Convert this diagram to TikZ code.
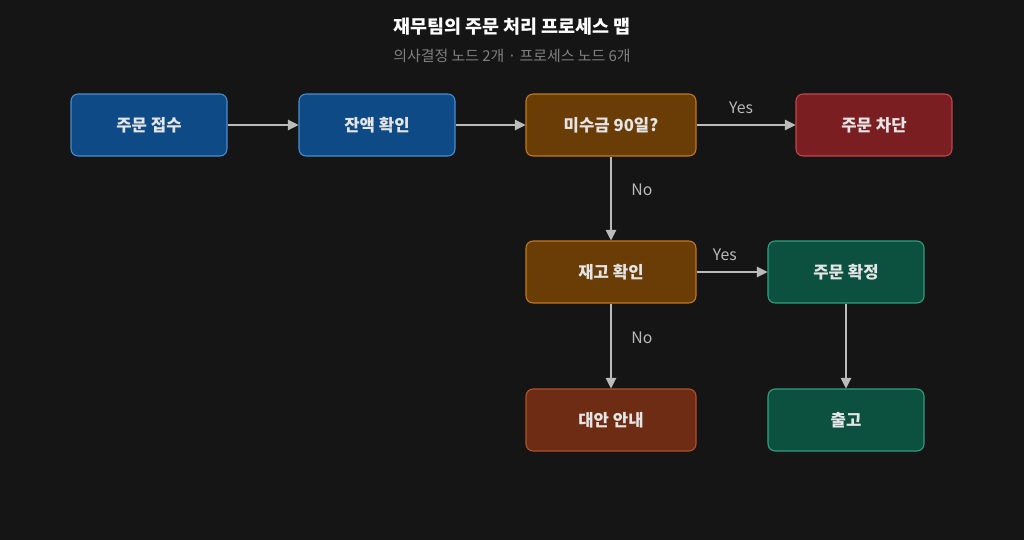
\documentclass[tikz,border=0pt]{standalone}
\usepackage{fontspec}
\setmainfont{Noto Sans CJK KR}
\usetikzlibrary{positioning}
\usetikzlibrary{arrows.meta}
\definecolor{bgc}{HTML}{151515}
\definecolor{linec}{HTML}{BBBBBB}
\definecolor{bluef}{HTML}{0E4A86}\definecolor{blued}{HTML}{4A8ED0}
\definecolor{orangef}{HTML}{6A3C06}\definecolor{oranged}{HTML}{C27A1C}
\definecolor{redf}{HTML}{7A1E22}\definecolor{redd}{HTML}{C4464E}
\definecolor{greenf}{HTML}{0C5040}\definecolor{greend}{HTML}{30A080}
\definecolor{brownf}{HTML}{6E2C14}\definecolor{brownd}{HTML}{B4522C}
\tikzset{
  box/.style={draw,rounded corners=4pt,line width=0.6pt,minimum width=3.12cm,minimum height=1.24cm,text=white!90!black,font=\fontsize{9.5}{11}\selectfont\bfseries},
  wide/.style={box,minimum width=3.4cm},
  arr/.style={-{Triangle[length=6pt,width=6pt]},draw=linec,line width=0.6pt},
  lbl/.style={text=linec,font=\fontsize{9}{11}\selectfont}
}
\begin{document}
\begin{tikzpicture}[x=0.02cm,y=-0.02cm]
  \fill[bgc] (0,0) rectangle (1024,540);
  \node[text=white,font=\fontsize{10.5}{12}\selectfont\bfseries] (title) at (512,27) {재무팀의 주문 처리 프로세스 맵};
  \node[text=gray,font=\fontsize{8.5}{10}\selectfont] (sub) at (512,56) {의사결정 노드 2개 · 프로세스 노드 6개};
  \node[box,fill=bluef,draw=blued] (recv) at (149,125) {주문 접수};
  \node[box,fill=bluef,draw=blued] (bal) at (377,125) {잔액 확인};
  \node[wide,fill=orangef,draw=oranged] (due) at (611,125) {미수금 90일?};
  \node[box,fill=redf,draw=redd] (block) at (874,125) {주문 차단};
  \node[wide,fill=orangef,draw=oranged] (stock) at (611,272) {재고 확인};
  \node[box,fill=greenf,draw=greend] (conf) at (846,272) {주문 확정};
  \node[wide,fill=brownf,draw=brownd] (alt) at (611,420) {대안 안내};
  \node[box,fill=greenf,draw=greend] (ship) at (846,420) {출고};
  \draw[arr] (recv) -- (bal);
  \draw[arr] (bal) -- (due);
  \draw[arr] (due) -- node[lbl,above=3pt,pos=0.45]{Yes} (block);
  \draw[arr] (due) -- node[lbl,right=8pt,pos=0.4]{No} (stock);
  \draw[arr] (stock) -- node[lbl,above=3pt,pos=0.4]{Yes} (conf);
  \draw[arr] (stock) -- node[lbl,right=8pt,pos=0.4]{No} (alt);
  \draw[arr] (conf) -- (ship);
\end{tikzpicture}
\end{document}
